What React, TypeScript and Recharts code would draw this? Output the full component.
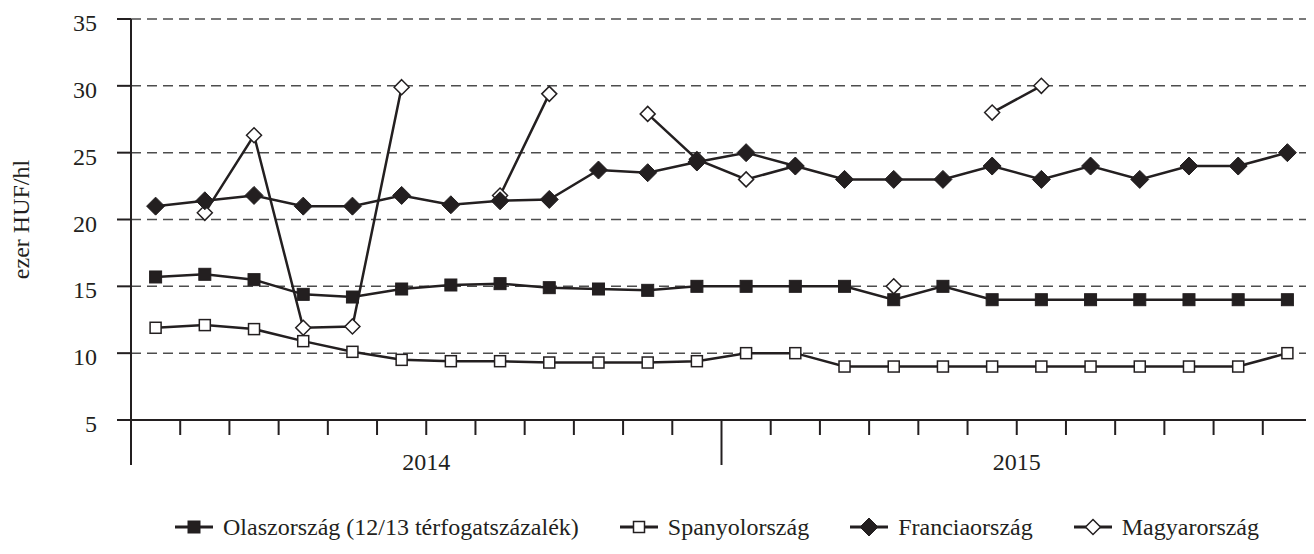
import { LineChart, Line, XAxis, YAxis, CartesianGrid } from 'recharts';

const INK = '#231f20';
const GRID = '#4d4d4d';

const MONTHS = [
  '2014-01', '2014-02', '2014-03', '2014-04', '2014-05', '2014-06',
  '2014-07', '2014-08', '2014-09', '2014-10', '2014-11', '2014-12',
  '2015-01', '2015-02', '2015-03', '2015-04', '2015-05', '2015-06',
  '2015-07', '2015-08', '2015-09', '2015-10', '2015-11', '2015-12',
];
const YEARS = ['2014', '2015'];
const Y_TICKS = [5, 10, 15, 20, 25, 30, 35];
const X_TICKS = [0, 1, 2, 3, 4, 5, 6, 7, 8, 9, 10, 11, 12, 13, 14, 15, 16, 17, 18, 19, 20, 21, 22, 23, 24];

const OLASZ = [15.7, 15.9, 15.5, 14.4, 14.2, 14.8, 15.1, 15.2, 14.9, 14.8, 14.7, 15.0, 15.0, 15.0, 15.0, 14.0, 15.0, 14.0, 14.0, 14.0, 14.0, 14.0, 14.0, 14.0];
const SPANYOL = [11.9, 12.1, 11.8, 10.9, 10.1, 9.5, 9.4, 9.4, 9.3, 9.3, 9.3, 9.4, 10.0, 10.0, 9.0, 9.0, 9.0, 9.0, 9.0, 9.0, 9.0, 9.0, 9.0, 10.0];
const FRANCIA = [21.0, 21.4, 21.8, 21.0, 21.0, 21.8, 21.1, 21.4, 21.5, 23.7, 23.5, 24.3, 25.0, 24.0, 23.0, 23.0, 23.0, 24.0, 23.0, 24.0, 23.0, 24.0, 24.0, 25.0];
const MAGYAR = [null, 20.5, 26.3, 11.9, 12.0, 29.9, null, 21.8, 29.4, null, 27.9, 24.5, 23.0, 24.0, null, 15.0, null, 28.0, 30.0, null, null, null, null, null];

const SERIES = [
  { key: 'olasz', name: 'Olaszország (12/13 térfogatszázalék)', shape: 'square', filled: true },
  { key: 'spanyol', name: 'Spanyolország', shape: 'square', filled: false },
  { key: 'francia', name: 'Franciaország', shape: 'diamond', filled: true },
  { key: 'magyar', name: 'Magyarország', shape: 'diamond', filled: false },
];

const data = MONTHS.map((m, i) => ({
  month: m,
  x: i + 0.5,
  olasz: OLASZ[i],
  spanyol: SPANYOL[i],
  francia: FRANCIA[i],
  magyar: MAGYAR[i],
}));

function Marker({ cx, cy, shape, filled }: any) {
  if (shape === 'square') {
    const s = filled ? 12 : 11;
    return (
      <rect x={cx - s / 2} y={cy - s / 2} width={s} height={s}
        fill={filled ? INK : '#fff'} stroke={INK} strokeWidth={filled ? 1 : 1.5} />
    );
  }
  const r = filled ? 9 : 7.5;
  return (
    <polygon points={`${cx},${cy - r} ${cx + r},${cy} ${cx},${cy + r} ${cx - r},${cy}`}
      fill={filled ? INK : '#fff'} stroke={INK} strokeWidth={filled ? 1 : 1.5} />
  );
}

const makeDot = (shape: string, filled: boolean) => (props: any) => {
  const { cx, cy, index, value } = props;
  if (cx == null || cy == null || value == null || Number.isNaN(cy)) return <g key={`e${index}`} />;
  return <g key={`d${index}`}><Marker cx={cx} cy={cy} shape={shape} filled={filled} /></g>;
};

function MonthTick({ x, y, payload }: any) {
  const v = payload.value;
  const boundary = v % 12 === 0;
  return (
    <g>
      <line x1={x} x2={x} y1={y} y2={y + (boundary ? 45 : 15)} stroke={INK} strokeWidth={2} />
      {v % 12 === 6 ? (
        <text x={x} y={y + 50} textAnchor="middle" fontSize={24} fill={INK}>
          {YEARS[(v - 6) / 12]}
        </text>
      ) : null}
    </g>
  );
}

function ValueTick({ x, y, payload }: any) {
  return (
    <text x={x} y={y + 12} textAnchor="end" fontSize={24} fill={INK}>
      {payload.value}
    </text>
  );
}

function AxisTitle({ viewBox }: any) {
  const cx = 21;
  const cy = viewBox.y + viewBox.height / 2;
  return (
    <text x={cx} y={cy} transform={`rotate(-90 ${cx} ${cy})`} textAnchor="middle"
      dominantBaseline="central" fontSize={24} fill={INK}>
      ezer HUF/hl
    </text>
  );
}

export default function App() {
  return (
    <div style={{ position: 'relative', width: 1314, height: 554, margin: -8, background: '#fff', fontFamily: '"Liberation Serif", "Times New Roman", serif', color: INK }}>
      <LineChart width={1314} height={490} data={data} margin={{ top: 19, right: 2, bottom: 10, left: 0 }}>
        <CartesianGrid vertical={false} stroke={GRID} strokeDasharray="10 6" strokeWidth={1.5} />
        <XAxis dataKey="x" type="number" domain={[0, 24]} ticks={X_TICKS} interval={0}
          height={60} tickSize={0} tickMargin={0} tickLine={false}
          axisLine={{ stroke: INK, strokeWidth: 2 }} tick={<MonthTick />} />
        <YAxis type="number" domain={[5, 35]} ticks={Y_TICKS} interval={0} width={131}
          tickSize={14} tickMargin={20} tickLine={{ stroke: INK, strokeWidth: 2 }}
          axisLine={{ stroke: INK, strokeWidth: 2 }} tick={<ValueTick />}
          label={{ content: <AxisTitle /> }} />
        <Line dataKey="magyar" stroke={INK} strokeWidth={2.5} isAnimationActive={false}
          dot={makeDot('diamond', false)} activeDot={false} connectNulls={false} />
        <Line dataKey="spanyol" stroke={INK} strokeWidth={2.5} isAnimationActive={false}
          dot={makeDot('square', false)} activeDot={false} />
        <Line dataKey="olasz" stroke={INK} strokeWidth={2.5} isAnimationActive={false}
          dot={makeDot('square', true)} activeDot={false} />
        <Line dataKey="francia" stroke={INK} strokeWidth={2.5} isAnimationActive={false}
          dot={makeDot('diamond', true)} activeDot={false} />
      </LineChart>
      <div style={{ position: 'absolute', left: 174, top: 512, display: 'flex', alignItems: 'center', gap: 40, fontSize: 24, lineHeight: '30px', whiteSpace: 'nowrap' }}>
        {SERIES.map((s) => (
          <div key={s.key} style={{ display: 'flex', alignItems: 'center', gap: 9 }}>
            <svg width={40} height={24} style={{ display: 'block' }}>
              <line x1={1} x2={39} y1={12} y2={12} stroke={INK} strokeWidth={3} />
              <Marker cx={20} cy={12} shape={s.shape} filled={s.filled} />
            </svg>
            <span>{s.name}</span>
          </div>
        ))}
      </div>
    </div>
  );
}
